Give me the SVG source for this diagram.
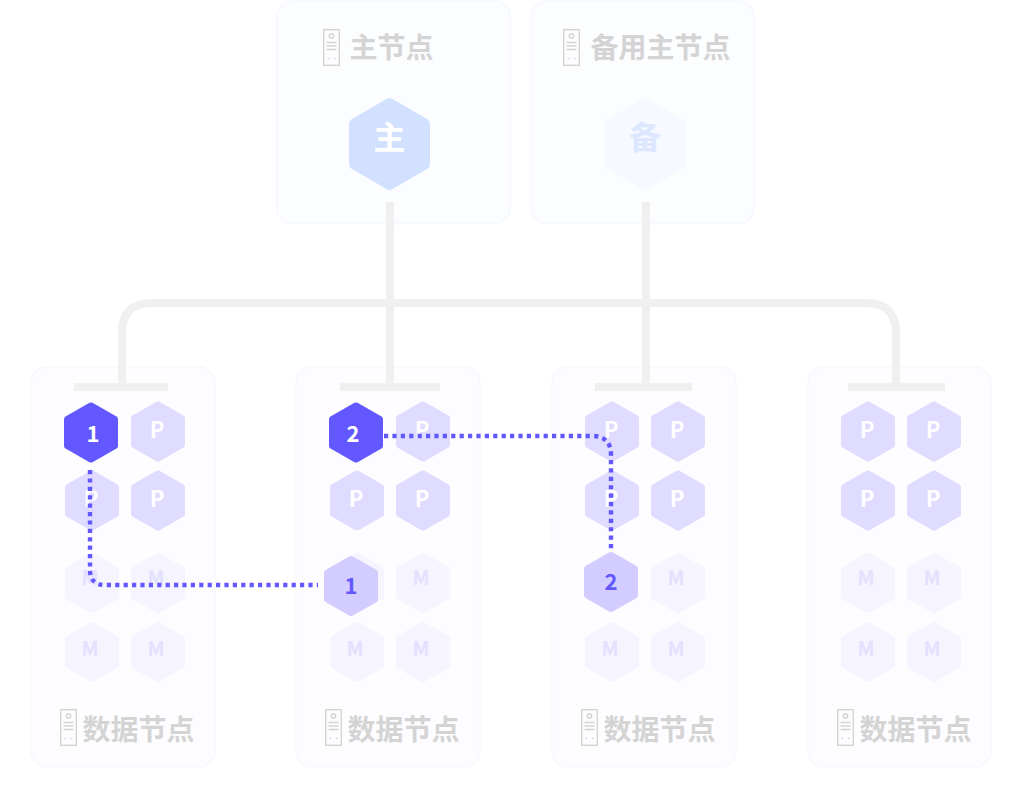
<svg xmlns="http://www.w3.org/2000/svg" width="1024" height="794" viewBox="0 0 1024 794">
<style>
text{font-family:"Noto Sans CJK SC","Noto Sans",sans-serif;font-weight:700;text-anchor:middle}
.card{fill:#fdfdff;stroke:#f7f8fe;stroke-width:1.5}
.top{fill:#fcfdff;stroke:#f6f8ff}
.lbl{font-size:28px;fill:#d4d4d4;text-anchor:start}
.t{font-size:22px;fill:#fff}
.tm{font-size:20px;fill:#e4e1ff}
.a{font-size:22px;fill:#6357ff}
.p{fill:#dfdcff}
.m{fill:#f6f4ff}
.bar{fill:#f0f0f0}
.wire{fill:none;stroke:#f0f0f0;stroke-width:8}
.dot{fill:none;stroke:#6357ff;stroke-width:4.4;stroke-dasharray:4.2 4.2}
.ic{fill:none;stroke:#d4d4d4;stroke-width:1.4}
</style>
<defs>
<path id="h" d="M-1.5-29.7Q0-30.5 1.5-29.7L25.5-16Q27-15 27-13.5V13.5Q27 15 25.5 16L1.5 29.7Q0 30.5-1.5 29.7L-25.5 16Q-27 15-27 13.5V-13.5Q-27-15-25.5-16Z"/>
<g id="i">
<rect x="0.7" y="0.7" width="15.6" height="35.6"/>
<circle cx="8.5" cy="7" r="2.2"/>
<path d="M3.5 13.5H13.5M3.5 17H13.5M3.5 20.5H13.5"/>
<path d="M4.5 29.5h1.5M11 29.5h1.5"/>
</g>
</defs>

<g id="node-main">
<rect class="card top" x="276.5" y="1" width="234" height="222.5" rx="16"/>
<use href="#i" class="ic" x="323" y="29"/>
<text class="lbl" x="349.500" y="57.500">主节点</text>
<use href="#h" transform="translate(389.500 144) scale(1.5 1.53)" fill="#d2e1ff"/>
<text x="389.500" y="149" style="font-size:32px" fill="#fff">主</text>
</g>
<g id="node-backup">
<rect class="card top" x="531.5" y="1" width="223" height="222.5" rx="16"/>
<use href="#i" class="ic" x="563" y="29"/>
<text class="lbl" x="590.500" y="57.500">备用主节点</text>
<use href="#h" transform="translate(645 144) scale(1.5 1.53)" fill="#f6f9ff"/>
<text x="645" y="149" style="font-size:32px" fill="#dce7ff">备</text>
</g>

<g id="node-data-1">
<rect class="card" x="31" y="367" width="184" height="400" rx="16"/>
<use href="#i" class="ic" x="60" y="709"/>
<text class="lbl" x="82.500" y="740">数据节点</text>
<use href="#h" class="p" x="158" y="431.500"/><text class="t" x="157" y="437.500">P</text>
<use href="#h" class="p" x="92" y="500.500"/><text class="t" x="91" y="507">P</text>
<use href="#h" class="p" x="158" y="500.500"/><text class="t" x="157" y="507">P</text>
<use href="#h" class="m" x="92" y="583"/><text class="tm" x="90" y="585">M</text>
<use href="#h" class="m" x="158" y="583"/><text class="tm" x="156" y="585">M</text>
<use href="#h" class="m" x="92" y="652"/><text class="tm" x="90" y="656">M</text>
<use href="#h" class="m" x="158" y="652"/><text class="tm" x="156" y="656">M</text>
<use href="#h" x="91" y="432.500" fill="#6357ff"/><text class="t" x="93" y="442">1</text>
</g>
<g id="node-data-2">
<rect class="card" x="296" y="367" width="184" height="400" rx="16"/>
<use href="#i" class="ic" x="325" y="709"/>
<text class="lbl" x="347.500" y="740">数据节点</text>
<use href="#h" class="p" x="423" y="431.500"/><text class="t" x="422" y="437.500">P</text>
<use href="#h" class="p" x="357" y="500.500"/><text class="t" x="356" y="507">P</text>
<use href="#h" class="p" x="423" y="500.500"/><text class="t" x="422" y="507">P</text>
<use href="#h" class="m" x="357" y="583"/>
<use href="#h" class="m" x="423" y="583"/><text class="tm" x="421" y="585">M</text>
<use href="#h" class="m" x="357" y="652"/><text class="tm" x="355" y="656">M</text>
<use href="#h" class="m" x="423" y="652"/><text class="tm" x="421" y="656">M</text>
<use href="#h" x="356" y="432.500" fill="#6357ff"/><text class="t" x="353" y="442">2</text>
<use href="#h" x="351" y="586" fill="#d2ccff"/><text class="a" x="351" y="594">1</text>
</g>
<g id="node-data-3">
<rect class="card" x="552" y="367" width="184" height="400" rx="16"/>
<use href="#i" class="ic" x="581" y="709"/>
<text class="lbl" x="603.500" y="740">数据节点</text>
<use href="#h" class="p" x="612" y="431.500"/><text class="t" x="611" y="437.500">P</text>
<use href="#h" class="p" x="678" y="431.500"/><text class="t" x="677" y="437.500">P</text>
<use href="#h" class="p" x="612" y="500.500"/><text class="t" x="611" y="507">P</text>
<use href="#h" class="p" x="678" y="500.500"/><text class="t" x="677" y="507">P</text>
<use href="#h" class="m" x="678" y="583"/><text class="tm" x="676" y="585">M</text>
<use href="#h" class="m" x="612" y="652"/><text class="tm" x="610" y="656">M</text>
<use href="#h" class="m" x="678" y="652"/><text class="tm" x="676" y="656">M</text>
<use href="#h" x="611" y="582" fill="#d2ccff"/><text class="a" x="611" y="590">2</text>
</g>
<g id="node-data-4">
<rect class="card" x="808" y="367" width="183" height="400" rx="16"/>
<use href="#i" class="ic" x="837" y="709"/>
<text class="lbl" x="859.500" y="740">数据节点</text>
<use href="#h" class="p" x="868" y="431.500"/><text class="t" x="867" y="437.500">P</text>
<use href="#h" class="p" x="934" y="431.500"/><text class="t" x="933" y="437.500">P</text>
<use href="#h" class="p" x="868" y="500.500"/><text class="t" x="867" y="507">P</text>
<use href="#h" class="p" x="934" y="500.500"/><text class="t" x="933" y="507">P</text>
<use href="#h" class="m" x="868" y="583"/><text class="tm" x="866" y="585">M</text>
<use href="#h" class="m" x="934" y="583"/><text class="tm" x="932" y="585">M</text>
<use href="#h" class="m" x="868" y="652"/><text class="tm" x="866" y="656">M</text>
<use href="#h" class="m" x="934" y="652"/><text class="tm" x="932" y="656">M</text>
</g>

<g id="connectors">
<path class="wire" d="M122 385V333Q122 303 152 303H866Q896 303 896 333V385"/>
<path class="wire" d="M390 202V385M646 202V385"/>
<rect class="bar" x="74" y="383" width="94" height="8"/>
<rect class="bar" x="340" y="383" width="100" height="8"/>
<rect class="bar" x="595" y="383" width="97" height="8"/>
<rect class="bar" x="848" y="383" width="97" height="8"/>
<path class="dot" d="M90 470V570Q90 585 105 585H318"/>
<path class="dot" d="M384 436H592Q611 436 611 455V552"/>
</g>
</svg>
